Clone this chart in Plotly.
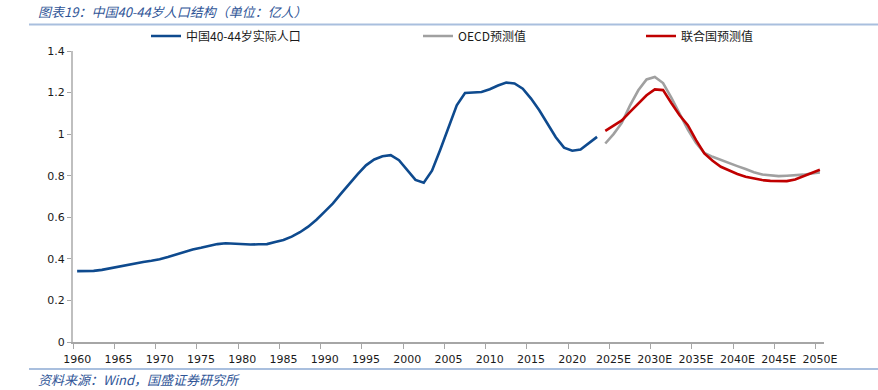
import plotly.graph_objects as go

# ---- data ----
actual_years = list(range(1960, 2024))
actual_values = [
    0.341, 0.340, 0.342, 0.347, 0.355, 0.364, 0.370, 0.377, 0.385, 0.391,
    0.398, 0.409, 0.421, 0.433, 0.445, 0.453, 0.463, 0.471, 0.475, 0.472,
    0.469, 0.469, 0.470, 0.471, 0.481, 0.491, 0.507, 0.528, 0.555, 0.588,
    0.627, 0.667, 0.715, 0.763, 0.808, 0.850, 0.878, 0.894, 0.899, 0.875,
    0.826, 0.780, 0.766, 0.824, 0.925, 1.029, 1.139, 1.198, 1.200, 1.203,
    1.216, 1.234, 1.248, 1.244, 1.219, 1.171, 1.115, 1.051, 0.985, 0.935,
    0.920, 0.926, 0.958, 0.987,
]
forecast_years = list(range(2024, 2051))
oecd_values = [
    0.955, 1.000, 1.054, 1.139, 1.211, 1.263, 1.275, 1.246, 1.176, 1.096,
    1.022, 0.958, 0.910, 0.891, 0.875, 0.862, 0.846, 0.832, 0.817, 0.806,
    0.801, 0.798, 0.800, 0.801, 0.805, 0.811, 0.816,
]
un_values = [
    1.016, 1.042, 1.066, 1.107, 1.147, 1.187, 1.215, 1.212, 1.150, 1.091,
    1.043, 0.971, 0.907, 0.872, 0.843, 0.824, 0.808, 0.795, 0.786, 0.779,
    0.775, 0.774, 0.774, 0.782, 0.797, 0.813, 0.829,
]
y_ticks = [0, 0.2, 0.4, 0.6, 0.8, 1, 1.2, 1.4]
y_tick_labels = ["0", "0.2", "0.4", "0.6", "0.8", "1", "1.2", "1.4"]

series_names = ["中国40-44岁实际人口", "OECD预测值", "联合国预测值"]
title_text = "图表19：中国40-44岁人口结构（单位：亿人）"
source_text = "资料来源：Wind，国盛证券研究所"

actual_cats = [str(y) for y in actual_years]
forecast_cats = [f"{y}E" for y in forecast_years]
all_cats = actual_cats + forecast_cats

W, H = 878, 390
L, R, T, B = 73, 54, 51, 48

CJK = "Noto Sans CJK SC"
BLUE_TXT = "#2F5597"

fig = go.Figure()
fig.add_trace(go.Scatter(x=actual_cats, y=actual_values, mode="lines",
                         name=series_names[0], legend="legend",
                         line=dict(color="#0E4A8E", width=2.6)))
fig.add_trace(go.Scatter(x=forecast_cats, y=oecd_values, mode="lines",
                         name=series_names[1], legend="legend2",
                         line=dict(color="#A0A0A0", width=2.6)))
fig.add_trace(go.Scatter(x=forecast_cats, y=un_values, mode="lines",
                         name=series_names[2], legend="legend3",
                         line=dict(color="#C00000", width=2.6)))

def cx(px):
    return px / W

def px_paper(px):
    return (px - L) / (W - L - R)

def py_paper(py):
    return (H - B - py) / (H - T - B)

leg_common = dict(orientation="h", xref="container", yref="container",
                  yanchor="middle", xanchor="left", bgcolor="rgba(0,0,0,0)",
                  font=dict(family=CJK, size=12, color="#1a1a1a"),
                  itemwidth=30)
fig.update_layout(
    width=W, height=H,
    margin=dict(l=L, r=R, t=T, b=B, autoexpand=False),
    paper_bgcolor="white", plot_bgcolor="white",
    showlegend=True,
    legend=dict(**leg_common, x=cx(146), y=1 - 36 / H),
    legend2=dict(**leg_common, x=cx(418), y=1 - 36 / H),
    legend3=dict(**leg_common, x=cx(641), y=1 - 36 / H),
    xaxis=dict(type="category", categoryorder="array", categoryarray=all_cats,
               range=[-0.5, len(all_cats) - 0.5], dtick=5, tick0=0,
               tickson="boundaries", ticks="outside", ticklen=5,
               ticklabelstandoff=6,
               tickcolor="#A6A6A6", showline=True, linecolor="#A6A6A6",
               linewidth=1.5, showgrid=False, zeroline=False,
               tickangle=0, automargin=False,
               tickfont=dict(family="DejaVu Sans", size=11, color="#1a1a1a")),
    yaxis=dict(range=[0, 1.4], tickvals=y_ticks, ticktext=y_tick_labels,
               ticks="outside", ticklen=4, tickcolor="#A6A6A6",
               showline=True, linecolor="#BFBFBF", linewidth=2,
               showgrid=False, zeroline=False, automargin=False,
               tickfont=dict(family="DejaVu Sans", size=11, color="#1a1a1a")),
    annotations=[
        dict(text="<i>" + title_text + "</i>", xref="paper", yref="paper",
             x=px_paper(36), y=py_paper(11), xanchor="left",
             yanchor="middle", showarrow=False,
             font=dict(family=CJK, size=13, color=BLUE_TXT)),
        dict(text="<i>" + source_text + "</i>", xref="paper", yref="paper",
             x=px_paper(36), y=py_paper(379), xanchor="left",
             yanchor="middle", showarrow=False,
             font=dict(family=CJK, size=13, color=BLUE_TXT)),
    ],
    shapes=[
        dict(type="line", xref="paper", yref="paper",
             x0=px_paper(29), x1=px_paper(W),
             y0=py_paper(24.5), y1=py_paper(24.5),
             line=dict(color="#A9BFDE", width=2)),
        dict(type="line", xref="paper", yref="paper",
             x0=px_paper(29), x1=px_paper(W),
             y0=py_paper(369), y1=py_paper(369),
             line=dict(color="#A9BFDE", width=2)),
    ],
)

fig.write_html("out.html",
               config={"displayModeBar": False},
               post_script="document.body.style.margin='0';"
                           "document.body.style.overflow='hidden';")
